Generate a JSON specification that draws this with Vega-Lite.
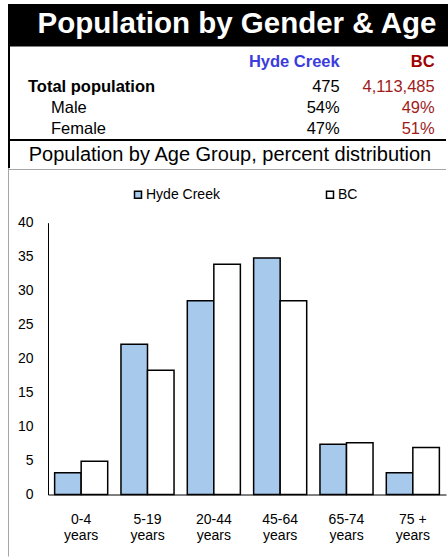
{
  "$schema": "https://vega.github.io/schema/vega-lite/v6.json",
  "padding": {"left": 8, "top": 4, "right": 0, "bottom": 0},
  "spacing": 0,
  "bounds": "flush",
  "config": {"font": "Liberation Sans", "view": {"stroke": null}},
  "datasets": {
    "table": [
      {"row": "head", "label": "", "hyde": "Hyde Creek", "bc": "BC"},
      {"row": "total", "label": "Total population", "hyde": "475", "bc": "4,113,485"},
      {"row": "male", "label": "Male", "hyde": "54%", "bc": "49%"},
      {"row": "female", "label": "Female", "hyde": "47%", "bc": "51%"}
    ],
    "ages": [
      {"age": "0-4 years", "series": "Hyde Creek", "pct": 3.2},
      {"age": "5-19 years", "series": "Hyde Creek", "pct": 22.1},
      {"age": "20-44 years", "series": "Hyde Creek", "pct": 28.5},
      {"age": "45-64 years", "series": "Hyde Creek", "pct": 34.8},
      {"age": "65-74 years", "series": "Hyde Creek", "pct": 7.4},
      {"age": "75 + years", "series": "Hyde Creek", "pct": 3.2},
      {"age": "0-4 years", "series": "BC", "pct": 4.9},
      {"age": "5-19 years", "series": "BC", "pct": 18.3},
      {"age": "20-44 years", "series": "BC", "pct": 33.9},
      {"age": "45-64 years", "series": "BC", "pct": 28.5},
      {"age": "65-74 years", "series": "BC", "pct": 7.6},
      {"age": "75 + years", "series": "BC", "pct": 6.9}
    ]
  },
  "vconcat": [
    {
      "width": 440,
      "height": 40,
      "view": {"fill": "black", "stroke": null},
      "data": {"values": [{"t": "Population by Gender & Age"}]},
      "mark": {"type": "text", "color": "white", "fontSize": 29.5, "fontWeight": "bold", "dx": 9},
      "encoding": {"text": {"field": "t"}}
    },
    {
      "spacing": 0,
      "bounds": "flush",
      "hconcat": [
        {
          "spacing": 0,
          "bounds": "flush",
          "vconcat": [
            {"width": 2, "height": 124, "view": {"fill": "black", "stroke": null}, "data": {"values": []}, "mark": "point"},
            {"width": 1, "height": 388.5, "view": {"fill": "#a6a6a6", "stroke": null}, "data": {"values": []}, "mark": "point"}
          ]
        },
        {
          "spacing": 0,
          "bounds": "flush",
          "vconcat": [
            {
              "width": 438,
              "height": 94.5,
              "data": {"name": "table"},
              "resolve": {"scale": {"x": "independent"}},
              "layer": [
                {
                  "transform": [{"filter": "datum.row === 'total'"}],
                  "mark": {"type": "text", "align": "left", "baseline": "alphabetic", "fontSize": 16.5, "fontWeight": "bold", "color": "black"},
                  "encoding": {
                    "x": {"datum": "label", "type": "nominal", "scale": {"type": "point", "domain": ["label", "indent"], "range": [20, 43], "padding": 0}, "axis": null},
                    "y": {"field": "row", "type": "nominal", "scale": {"type": "point", "domain": ["head", "total", "male", "female"], "range": [27.1, 89.5], "padding": 0}, "axis": null},
                    "text": {"field": "label"}
                  }
                },
                {
                  "transform": [{"filter": "datum.row === 'male' || datum.row === 'female'"}],
                  "mark": {"type": "text", "align": "left", "baseline": "alphabetic", "fontSize": 16.5, "color": "black"},
                  "encoding": {
                    "x": {"datum": "indent", "type": "nominal", "scale": {"type": "point", "domain": ["label", "indent"], "range": [20, 43], "padding": 0}, "axis": null},
                    "y": {"field": "row", "type": "nominal", "axis": null},
                    "text": {"field": "label"}
                  }
                },
                {
                  "transform": [{"filter": "datum.row === 'head'"}],
                  "mark": {"type": "text", "align": "right", "baseline": "alphabetic", "fontSize": 16.5, "fontWeight": "bold", "color": "#3c3cdc", "dy": -4.4},
                  "encoding": {
                    "x": {"datum": "hyde", "type": "nominal", "scale": {"type": "point", "domain": ["hyde", "bc"], "range": [331.7, 426.7], "padding": 0}, "axis": null},
                    "y": {"field": "row", "type": "nominal", "axis": null},
                    "text": {"field": "hyde"}
                  }
                },
                {
                  "transform": [{"filter": "datum.row === 'head'"}],
                  "mark": {"type": "text", "align": "right", "baseline": "alphabetic", "fontSize": 16.5, "fontWeight": "bold", "color": "#a00000", "dy": -4.4},
                  "encoding": {
                    "x": {"datum": "bc", "type": "nominal", "scale": {"type": "point", "domain": ["hyde", "bc"], "range": [331.7, 426.7], "padding": 0}, "axis": null},
                    "y": {"field": "row", "type": "nominal", "axis": null},
                    "text": {"field": "bc"}
                  }
                },
                {
                  "transform": [{"filter": "datum.row !== 'head'"}],
                  "mark": {"type": "text", "align": "right", "baseline": "alphabetic", "fontSize": 16.5, "color": "black"},
                  "encoding": {
                    "x": {"datum": "hyde", "type": "nominal", "scale": {"type": "point", "domain": ["hyde", "bc"], "range": [331.7, 426.7], "padding": 0}, "axis": null},
                    "y": {"field": "row", "type": "nominal", "axis": null},
                    "text": {"field": "hyde"}
                  }
                },
                {
                  "transform": [{"filter": "datum.row !== 'head'"}],
                  "mark": {"type": "text", "align": "right", "baseline": "alphabetic", "fontSize": 16.5, "color": "#9e1b1b"},
                  "encoding": {
                    "x": {"datum": "bc", "type": "nominal", "scale": {"type": "point", "domain": ["hyde", "bc"], "range": [331.7, 426.7], "padding": 0}, "axis": null},
                    "y": {"field": "row", "type": "nominal", "axis": null},
                    "text": {"field": "bc"}
                  }
                }
              ]
            },
            {"width": 438, "height": 2, "view": {"fill": "black", "stroke": null}, "data": {"values": []}, "mark": "point"},
            {
              "width": 438,
              "height": 27.5,
              "data": {"values": [{"t": "Population by Age Group, percent distribution"}]},
              "mark": {"type": "text", "color": "black", "fontSize": 20, "dx": 3},
              "encoding": {"text": {"field": "t"}}
            },
            {"width": 438, "height": 1, "view": {"fill": "#a6a6a6", "stroke": null}, "data": {"values": []}, "mark": "point"},
            {
              "width": 438,
              "height": 387.5,
              "data": {"name": "ages"},
              "mark": {"type": "bar", "stroke": "black", "strokeWidth": 1.5},
              "encoding": {
                "x": {
                  "field": "age", "type": "nominal",
                  "scale": {"domain": ["0-4 years", "5-19 years", "20-44 years", "45-64 years", "65-74 years", "75 + years"], "range": [40, 438], "paddingInner": 0.2, "paddingOuter": 0.1},
                  "axis": {"orient": "bottom", "offset": -63, "title": null, "ticks": false, "tickSize": 0, "labelPadding": 18, "labelFontSize": 14, "labelColor": "#000", "labelLineHeight": 16, "labelAngle": 0, "labelExpr": "[slice(datum.label, 0, indexof(datum.label, ' years')), 'years']", "domainColor": "#000", "domainWidth": 1}
                },
                "xOffset": {"field": "series", "type": "nominal", "scale": {"domain": ["Hyde Creek", "BC"], "paddingInner": 0}},
                "y": {
                  "field": "pct", "type": "quantitative",
                  "scale": {"domain": [0, 40], "range": [324.5, 52.7], "nice": false},
                  "axis": {"orient": "left", "offset": -40, "title": null, "grid": false, "values": [0, 5, 10, 15, 20, 25, 30, 35, 40], "ticks": false, "tickSize": 0, "labelPadding": 15, "labelFontSize": 14, "labelColor": "#000", "domainColor": "#000", "domainWidth": 1}
                },
                "color": {
                  "field": "series", "type": "nominal",
                  "scale": {"domain": ["Hyde Creek", "BC"], "range": ["#a6c9ec", "#ffffff"]},
                  "legend": {"orient": "none", "legendX": 123, "legendY": 183.8, "direction": "horizontal", "columns": 2, "columnPadding": 103, "title": null, "symbolType": "square", "symbolSize": 49, "symbolStrokeColor": "black", "symbolStrokeWidth": 1.5, "symbolOpacity": 1, "labelFontSize": 14, "labelColor": "black", "labelOffset": 1, "padding": 0}
                }
              }
            }
          ]
        }
      ]
    },
    {"width": 440, "height": 2.5, "view": {"fill": "black", "stroke": null}, "data": {"values": []}, "mark": "point"}
  ]
}
